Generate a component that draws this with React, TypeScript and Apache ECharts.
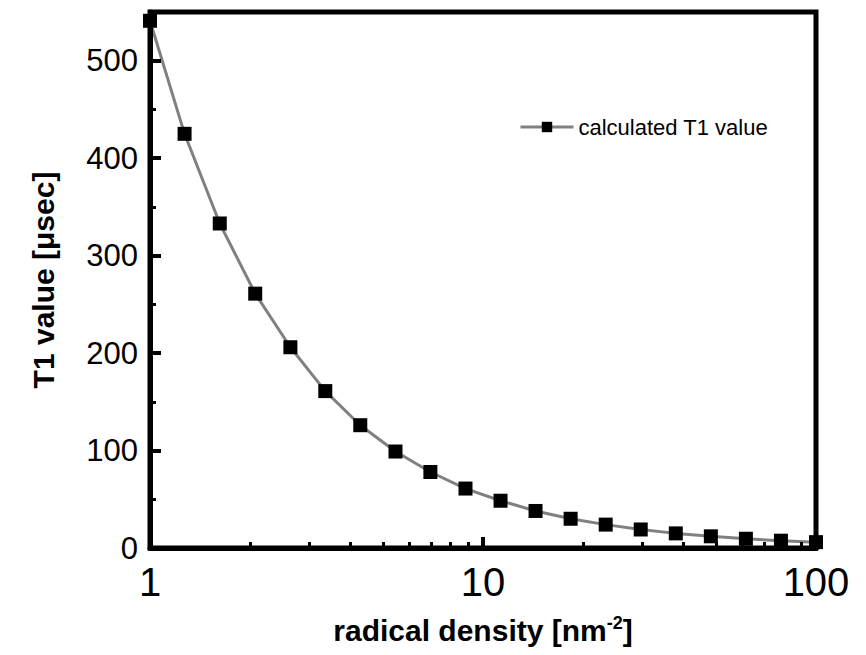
import React, { useEffect, useRef } from "react";
import * as echarts from "echarts";

const densities = [1, 1.27, 1.62, 2.07, 2.64, 3.36, 4.28, 5.46, 6.95, 8.86, 11.29, 14.38, 18.33, 23.36, 29.76, 37.93, 48.33, 61.58, 78.48, 100];
const t1Values = [541, 425, 333, 261, 206, 161, 126, 99, 78, 61, 48.5, 38, 30, 24, 19, 15, 12, 9.5, 7.5, 6];
const seriesName = "calculated T1 value";
const xMinorTicks = [2, 3, 4, 5, 6, 7, 8, 9, 20, 30, 40, 50, 60, 70, 80, 90];

const FONT = "Liberation Sans, Arial, sans-serif";

export default function App() {
  const ref = useRef<HTMLDivElement>(null);
  useEffect(() => {
    if (!ref.current) return;
    const chart = echarts.init(ref.current, null, { renderer: "svg" });
    chart.setOption({
      animation: false,
      backgroundColor: "#ffffff",
      grid: {
        left: 150,
        top: 12,
        width: 666,
        height: 536,
        show: true,
        borderColor: "#000",
        borderWidth: 5,
        backgroundColor: "transparent",
      },
      legend: {
        left: 519,
        top: 116,
        padding: 0,
        itemWidth: 53,
        itemHeight: 13,
        itemGap: 4,
        lineStyle: { width: 3, color: "#808080" },
        textStyle: { fontFamily: FONT, fontSize: 22, color: "#000" },
        data: [seriesName],
      },
      xAxis: [
        {
          type: "log",
          logBase: 10,
          min: 1,
          max: 100,
          name: "radical density [nm{sup|-2}]",
          nameLocation: "middle",
          nameGap: 66,
          nameTextStyle: {
            fontFamily: FONT,
            fontSize: 30,
            fontWeight: "bold",
            color: "#000",
            rich: {
              sup: { fontFamily: FONT, fontSize: 18, fontWeight: "bold", color: "#000", padding: [0, 0, 14, 0] },
            },
          },
          axisLine: { show: true, lineStyle: { color: "#000", width: 5 } },
          axisTick: { show: true, inside: true, length: 11, lineStyle: { color: "#000", width: 4 } },
          axisLabel: { fontFamily: FONT, fontSize: 40, color: "#000", margin: 14 },
          splitLine: { show: false },
          z: 5,
        },
        {
          type: "log",
          logBase: 10,
          min: 1,
          max: 100,
          position: "bottom",
          axisLine: { show: false },
          axisTick: { show: true, inside: true, length: 6, customValues: xMinorTicks, lineStyle: { color: "#000", width: 3 } },
          axisLabel: { show: false },
          splitLine: { show: false },
          z: 5,
        },
      ],
      yAxis: {
        type: "value",
        min: 0,
        max: 550,
        interval: 100,
        name: "T1 value [μsec]",
        nameLocation: "middle",
        nameGap: 92,
        nameTextStyle: { fontFamily: FONT, fontSize: 30, fontWeight: "bold", color: "#000" },
        axisLine: { show: true, lineStyle: { color: "#000", width: 5 } },
        axisTick: { show: true, inside: true, length: 11, lineStyle: { color: "#000", width: 4 } },
        minorTick: { show: true, splitNumber: 2, length: 6, lineStyle: { color: "#000", width: 3 } },
        axisLabel: { fontFamily: FONT, fontSize: 31, color: "#000", margin: 12, showMaxLabel: false },
        splitLine: { show: false },
        z: 5,
      },
      series: [
        {
          name: seriesName,
          type: "line",
          xAxisIndex: 0,
          data: densities.map((d, i) => [d, t1Values[i]]),
          symbol: "rect",
          symbolSize: 14,
          showAllSymbol: true,
          smooth: false,
          clip: true,
          lineStyle: { color: "#808080", width: 3 },
          itemStyle: { color: "#000" },
          z: 2,
        },
      ],
    });
    return () => chart.dispose();
  }, []);
  return (
    <div
      ref={ref}
      style={{ position: "fixed", left: 0, top: 0, width: 866, height: 655, background: "#fff" }}
    />
  );
}
